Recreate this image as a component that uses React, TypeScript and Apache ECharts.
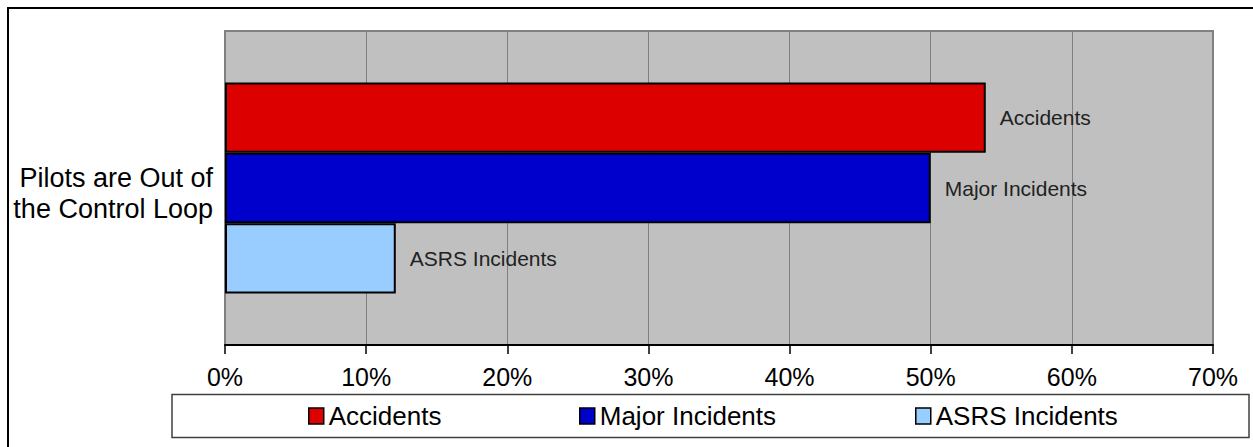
import React, { useEffect, useRef } from "react";
import * as echarts from "echarts";

const categories = ["Pilots are Out of\nthe Control Loop"];
const seriesNames = ["Accidents", "Major Incidents", "ASRS Incidents"];
const accidents = [53.9];
const majorIncidents = [50.0];
const asrsIncidents = [12.1];
const seriesColors = ["#DD0000", "#0000CC", "#99CCFF"];
const xTicks = { min: 0, max: 70, interval: 10 };

const FONT = "'Liberation Sans', Arial, sans-serif";

export default function App() {
  const ref = useRef<HTMLDivElement>(null);
  useEffect(() => {
    if (!ref.current) return;
    const chart = echarts.init(ref.current, null, { renderer: "svg" });
    const values = [accidents, majorIncidents, asrsIncidents];
    const legendLefts = [308, 579, 915];
    chart.setOption({
      animation: false,
      textStyle: { fontFamily: FONT },
      grid: {
        left: 225,
        right: 40,
        top: 31,
        bottom: 102,
        show: true,
        backgroundColor: "#C0C0C0",
        borderColor: "#808080",
        borderWidth: 2,
      },
      xAxis: {
        type: "value",
        min: xTicks.min,
        max: xTicks.max,
        interval: xTicks.interval,
        axisLine: { show: true, lineStyle: { color: "#000", width: 2 } },
        axisTick: { show: true, length: 9, lineStyle: { color: "#000", width: 1.5 } },
        axisLabel: {
          formatter: "{value}%",
          fontSize: 25,
          color: "#000",
          fontFamily: FONT,
          margin: 19,
        },
        splitLine: { show: true, lineStyle: { color: "#808080", width: 1 } },
      },
      yAxis: {
        type: "category",
        inverse: true,
        data: categories,
        axisLine: { show: false },
        axisTick: { show: false },
        axisLabel: {
          color: "#000",
          fontFamily: FONT,
          align: "right",
          margin: 12,
          formatter: (v: string) =>
            "{s| }\n" + v.split("\n").map((l) => "{a|" + l + "}").join("\n"),
          rich: {
            s: { fontSize: 1, lineHeight: 10, height: 10 },
            a: { fontSize: 27, lineHeight: 31, color: "#000", fontFamily: FONT, align: "right" },
          },
        },
      },
      legend: seriesNames.map((n, i) => ({
        data: [n],
        left: legendLefts[i],
        top: 403,
        padding: 0,
        itemWidth: 15,
        itemHeight: 16,
        itemGap: 0,
        icon: "rect",
        itemStyle: { borderColor: "#000", borderWidth: 1.5 },
        textStyle: { fontSize: 26, color: "#000", fontFamily: FONT, padding: [0, 0, 0, 0] },
        selectedMode: false,
      })),
      series: seriesNames.map((n, i) => ({
        name: n,
        type: "bar",
        data: values[i],
        barGap: "0%",
        barCategoryGap: "32.8%",
        itemStyle: { color: seriesColors[i], borderColor: "#000", borderWidth: 2 },
        label: {
          show: true,
          position: "right",
          distance: 14,
          formatter: n,
          fontSize: 21,
          color: "#222",
          fontFamily: FONT,
        },
      })),
      graphic: [
        {
          type: "rect",
          shape: { x: 8, y: 8, width: 1300, height: 500 },
          style: { fill: "none", stroke: "#000", lineWidth: 2 },
          silent: true,
        },
        {
          type: "rect",
          shape: { x: 172, y: 394.5, width: 1077, height: 43 },
          style: { fill: "none", stroke: "#404040", lineWidth: 1.5 },
          silent: true,
        },
      ],
    });
    return () => chart.dispose();
  }, []);
  return (
    <div
      ref={ref}
      style={{ position: "absolute", left: 0, top: 0, width: 1253, height: 447, background: "#fff" }}
    />
  );
}
